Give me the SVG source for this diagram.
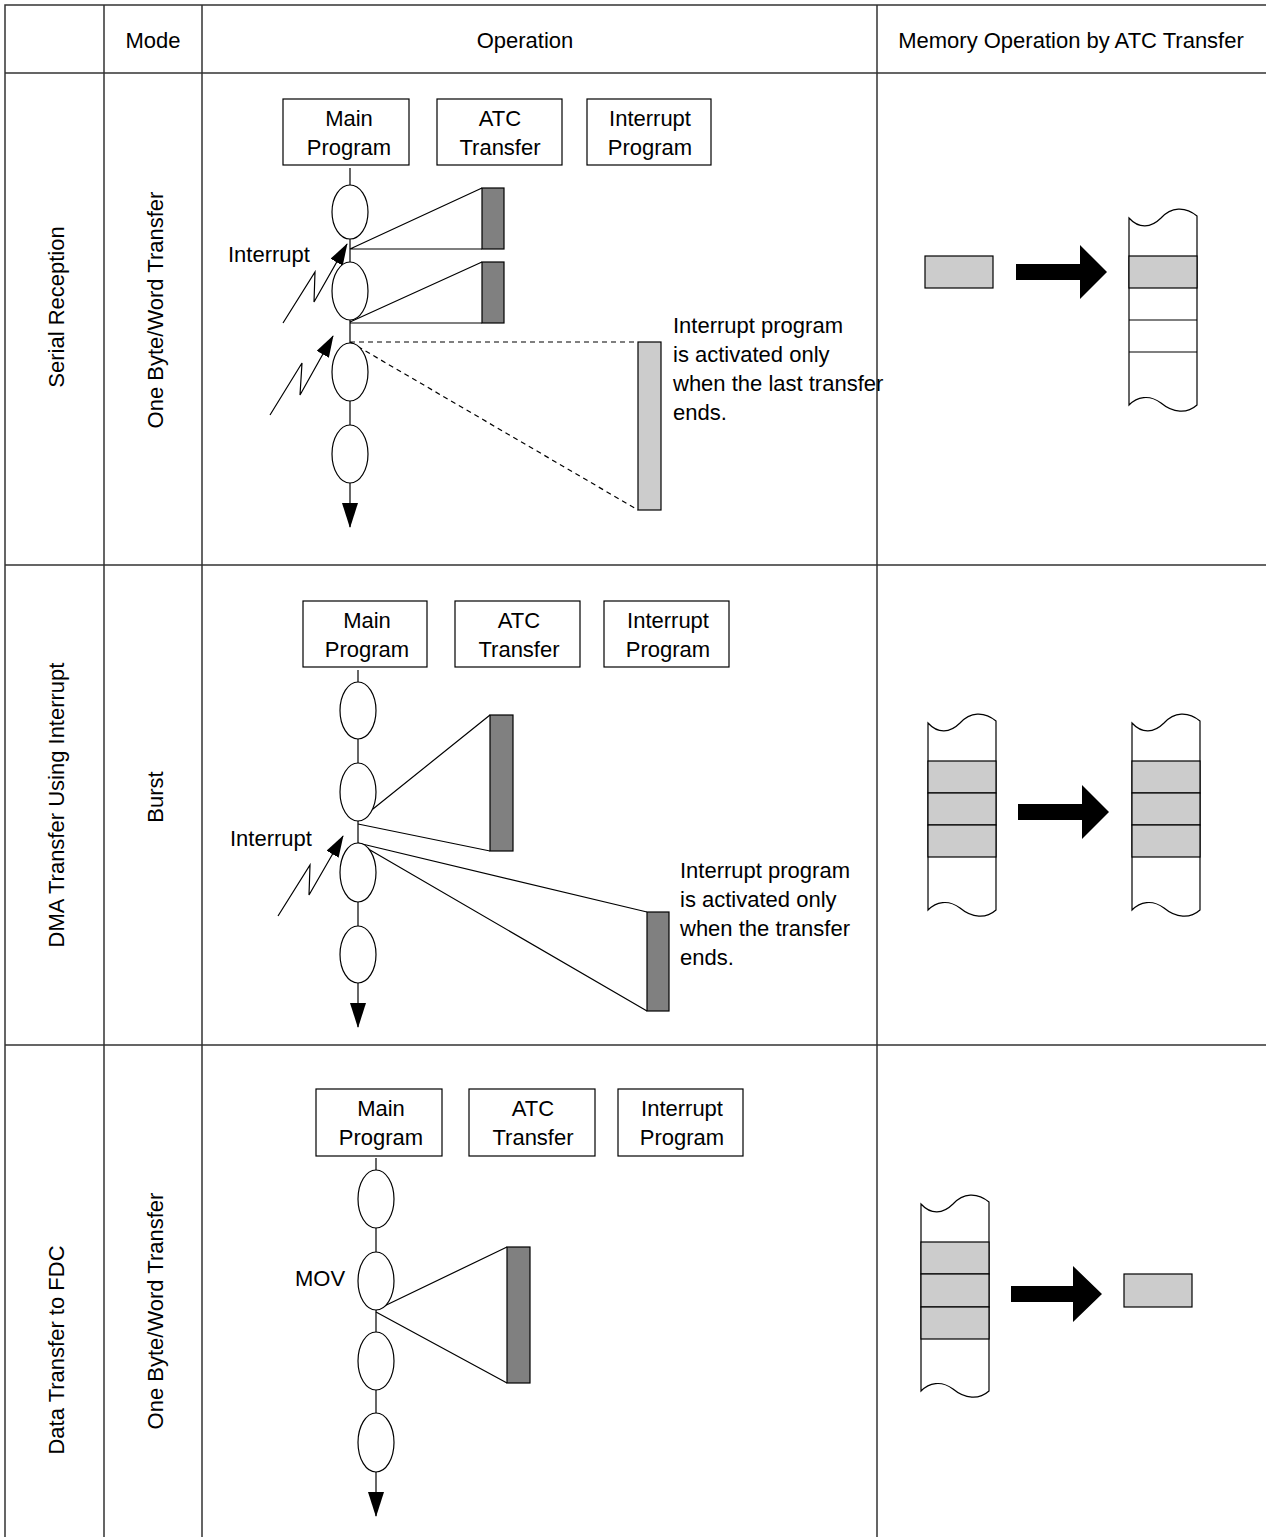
<svg xmlns="http://www.w3.org/2000/svg" width="1266" height="1537" viewBox="0 0 1266 1537">
<defs>
<style>
text{font-family:"Liberation Sans",Arial,sans-serif;font-size:22px;fill:#000}
.c{text-anchor:middle}
.grid{stroke:#333;stroke-width:1.5;fill:none}
.box{fill:#fff;stroke:#000;stroke-width:1.2}
.ln{stroke:#000;stroke-width:1.2;fill:none}
.dash{stroke:#000;stroke-width:1.2;fill:none;stroke-dasharray:5 4}
.ell{fill:#fff;stroke:#000;stroke-width:1.2}
.dark{fill:#808080;stroke:#000;stroke-width:1.2}
.light{fill:#cccccc;stroke:#000;stroke-width:1.2}
.mem{fill:#fff;stroke:#000;stroke-width:1.2}
.big{fill:#000}
</style>
<marker id="ah" viewBox="0 0 22 14" refX="21" refY="7" markerWidth="22" markerHeight="14" markerUnits="userSpaceOnUse" orient="auto"><path d="M0,0 L22,7 L0,14 z" fill="#000"/></marker>
<marker id="ad" viewBox="0 0 25 16" refX="24" refY="8" markerWidth="25" markerHeight="16" markerUnits="userSpaceOnUse" orient="auto"><path d="M0,0 L25,8 L0,16 z" fill="#000"/></marker>
</defs>
<rect width="1266" height="1537" fill="#fff"/>

<g id="table">
<path class="grid" d="M5,1537 V5 H1266 M5,73 H1266 M5,565 H1266 M5,1045 H1266 M104,5 V1537 M202,5 V1537 M877,5 V1537"/>
<text class="c" x="153" y="48">Mode</text>
<text class="c" x="525" y="48">Operation</text>
<text class="c" x="1071" y="48">Memory Operation by ATC Transfer</text>
<text class="c" transform="translate(64,307) rotate(-90)">Serial Reception</text>
<text class="c" transform="translate(163,310) rotate(-90)">One Byte/Word Transfer</text>
<text class="c" transform="translate(64,805) rotate(-90)">DMA Transfer Using Interrupt</text>
<text class="c" transform="translate(163,797) rotate(-90)">Burst</text>
<text class="c" transform="translate(64,1350) rotate(-90)">Data Transfer to FDC</text>
<text class="c" transform="translate(163,1311) rotate(-90)">One Byte/Word Transfer</text>
</g>

<g id="connectors">
<line class="ln" x1="350" y1="168" x2="350" y2="527" marker-end="url(#ad)"/>
<path class="ln" d="M350,249 L482,188 M350,249 H482 M350,322 L482,262 M350,323 H482"/>
<path class="dash" d="M350,342 H638 M350,342 L638,510"/>
<polyline class="ln" points="283,323 315,272 314,302 347,244" marker-end="url(#ah)"/>
<polyline class="ln" points="270,415 302,363 300,395 333,336" marker-end="url(#ah)"/>
<line class="ln" x1="358" y1="670" x2="358" y2="1027" marker-end="url(#ad)"/>
<path class="ln" d="M358,821 L490,715 M358,824 L490,851 M358,843 L647,912 M358,843 L647,1011"/>
<polyline class="ln" points="278,916 310,865 309,895 343,836" marker-end="url(#ah)"/>
<line class="ln" x1="376" y1="1158" x2="376" y2="1516" marker-end="url(#ad)"/>
<path class="ln" d="M376,1310 L507,1247 M376,1312 L507,1383"/>
</g>

<g id="row1">
<g id="r1-main"><rect class="box" x="283" y="99" width="126" height="66"/><text class="c" x="349" y="126">Main</text><text class="c" x="349" y="155">Program</text></g>
<g id="r1-atc"><rect class="box" x="437" y="99" width="125" height="66"/><text class="c" x="500" y="126">ATC</text><text class="c" x="500" y="155">Transfer</text></g>
<g id="r1-int"><rect class="box" x="587" y="99" width="124" height="66"/><text class="c" x="650" y="126">Interrupt</text><text class="c" x="650" y="155">Program</text></g>
<ellipse class="ell" cx="350" cy="212" rx="18" ry="27"/>
<ellipse class="ell" cx="350" cy="291" rx="18" ry="29"/>
<ellipse class="ell" cx="350" cy="372" rx="18" ry="29"/>
<ellipse class="ell" cx="350" cy="454" rx="18" ry="29"/>
<rect class="dark" x="482" y="188" width="22" height="61"/>
<rect class="dark" x="482" y="262" width="22" height="61"/>
<rect class="light" x="638" y="342" width="23" height="168"/>
<text x="228" y="262">Interrupt</text>
<text x="673" y="333">Interrupt program</text>
<text x="673" y="362">is activated only</text>
<text x="673" y="391">when the last transfer</text>
<text x="673" y="420">ends.</text>
<g id="r1-mem">
<rect class="light" x="925" y="256" width="68" height="32"/>
<polygon class="big" points="1016,264 1080,264 1080,245 1107,272 1080,299 1080,280 1016,280"/>
<path class="mem" d="M1129,218 C1139,229 1151,228 1161,218 C1171,207 1185,206 1197,216 L1197,405 C1187,414 1173,413 1161,403 C1149,394 1137,397 1129,405 Z"/>
<rect class="light" x="1129" y="256" width="68" height="32"/>
<path class="ln" d="M1129,320 H1197 M1129,352 H1197"/>
</g>
</g>

<g id="row2">
<g id="r2-main"><rect class="box" x="303" y="601" width="124" height="66"/><text class="c" x="367" y="628">Main</text><text class="c" x="367" y="657">Program</text></g>
<g id="r2-atc"><rect class="box" x="455" y="601" width="125" height="66"/><text class="c" x="519" y="628">ATC</text><text class="c" x="519" y="657">Transfer</text></g>
<g id="r2-int"><rect class="box" x="604" y="601" width="125" height="66"/><text class="c" x="668" y="628">Interrupt</text><text class="c" x="668" y="657">Program</text></g>
<ellipse class="ell" cx="358" cy="710.5" rx="18" ry="28.5"/>
<ellipse class="ell" cx="358" cy="792" rx="18" ry="29"/>
<ellipse class="ell" cx="358" cy="872.5" rx="18" ry="29.5"/>
<ellipse class="ell" cx="358" cy="954.5" rx="18" ry="28.5"/>
<rect class="dark" x="490" y="715" width="23" height="136"/>
<rect class="dark" x="647" y="912" width="22" height="99"/>
<text x="230" y="846">Interrupt</text>
<text x="680" y="878">Interrupt program</text>
<text x="680" y="907">is activated only</text>
<text x="680" y="936">when the transfer</text>
<text x="680" y="965">ends.</text>
<g id="r2-mem">
<path class="mem" d="M928,723 C938,734 950,733 960,723 C970,712 984,711 996,721 L996,910 C986,919 972,918 960,908 C948,899 936,902 928,910 Z"/>
<rect class="light" x="928" y="761" width="68" height="32"/>
<rect class="light" x="928" y="793" width="68" height="32"/>
<rect class="light" x="928" y="825" width="68" height="32"/>
<polygon class="big" points="1018,804 1082,804 1082,785 1109,812 1082,839 1082,820 1018,820"/>
<path class="mem" d="M1132,723 C1142,734 1154,733 1164,723 C1174,712 1188,711 1200,721 L1200,910 C1190,919 1176,918 1164,908 C1152,899 1140,902 1132,910 Z"/>
<rect class="light" x="1132" y="761" width="68" height="32"/>
<rect class="light" x="1132" y="793" width="68" height="32"/>
<rect class="light" x="1132" y="825" width="68" height="32"/>
</g>
</g>

<g id="row3">
<g id="r3-main"><rect class="box" x="316" y="1089" width="126" height="67"/><text class="c" x="381" y="1116">Main</text><text class="c" x="381" y="1145">Program</text></g>
<g id="r3-atc"><rect class="box" x="469" y="1089" width="126" height="67"/><text class="c" x="533" y="1116">ATC</text><text class="c" x="533" y="1145">Transfer</text></g>
<g id="r3-int"><rect class="box" x="618" y="1089" width="125" height="67"/><text class="c" x="682" y="1116">Interrupt</text><text class="c" x="682" y="1145">Program</text></g>
<ellipse class="ell" cx="376" cy="1199" rx="18" ry="29"/>
<ellipse class="ell" cx="376" cy="1281" rx="18" ry="29"/>
<ellipse class="ell" cx="376" cy="1361" rx="18" ry="29"/>
<ellipse class="ell" cx="376" cy="1442.5" rx="18" ry="29.5"/>
<rect class="dark" x="507" y="1247" width="23" height="136"/>
<text x="295" y="1286">MOV</text>
<g id="r3-mem">
<path class="mem" d="M921,1204 C931,1215 943,1214 953,1204 C963,1193 977,1192 989,1202 L989,1391 C979,1400 965,1399 953,1389 C941,1380 929,1383 921,1391 Z"/>
<rect class="light" x="921" y="1242" width="68" height="32"/>
<rect class="light" x="921" y="1274" width="68" height="33"/>
<rect class="light" x="921" y="1307" width="68" height="32"/>
<polygon class="big" points="1011,1286 1073,1286 1073,1266 1102,1294 1073,1322 1073,1302 1011,1302"/>
<rect class="light" x="1124" y="1274" width="68" height="33"/>
</g>
</g>
</svg>
